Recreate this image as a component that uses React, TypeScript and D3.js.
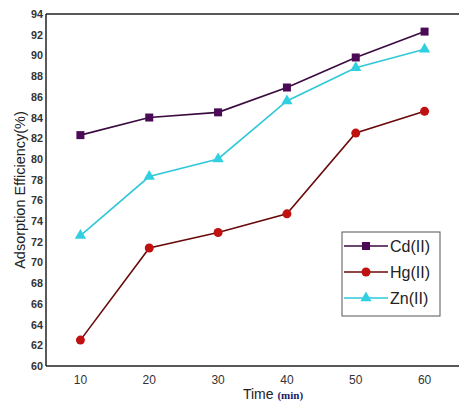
import React from "react";
import * as d3 from "d3";

const times = [10, 20, 30, 40, 50, 60];
const cd = [82.3, 84.0, 84.5, 86.9, 89.8, 92.3];
const hg = [62.5, 71.4, 72.9, 74.7, 82.5, 84.6];
const zn = [72.6, 78.3, 80.0, 85.6, 88.8, 90.6];
const yTicks = [60, 62, 64, 66, 68, 70, 72, 74, 76, 78, 80, 82, 84, 86, 88, 90, 92, 94];
const xTicks = [10, 20, 30, 40, 50, 60];

const seriesList = [
  { name: "Cd(II)", values: cd, line: "#3a0a40", marker: "#4a0a55", shape: "square" },
  { name: "Hg(II)", values: hg, line: "#6a0a0a", marker: "#c01010", shape: "circle" },
  { name: "Zn(II)", values: zn, line: "#30c8d8", marker: "#30d0e0", shape: "triangle" },
];

const W = 459;
const H = 405;

function Marker({ shape, x, y, color }: { shape: string; x: number; y: number; color: string }) {
  if (shape === "square") {
    return <rect x={x - 4} y={y - 4} width={8} height={8} fill={color} />;
  }
  if (shape === "circle") {
    return <circle cx={x} cy={y} r={4.5} fill={color} />;
  }
  const path = d3.symbol(d3.symbolTriangle, 55)();
  return <path d={path || ""} transform={`translate(${x},${y})`} fill={color} />;
}

export default function App() {
  const x = d3.scaleLinear().domain([5, 65]).range([46, 459]);
  const y = d3.scaleLinear().domain([60, 94]).range([366, 14]);

  const line = d3
    .line<number>()
    .x((_, i) => x(times[i]))
    .y((d) => y(d));

  return (
    <svg
      width={W}
      height={H}
      style={{ position: "absolute", left: 0, top: 0, background: "#fff" }}
      fontFamily="Liberation Sans, Arial, sans-serif"
    >
      {/* frame */}
      <line x1={46} x2={459} y1={14} y2={14} stroke="#222" strokeWidth={1.5} />
      <line x1={46} x2={459} y1={366} y2={366} stroke="#222" strokeWidth={1.5} />
      <line x1={46} x2={46} y1={14} y2={366} stroke="#222" strokeWidth={1.5} />

      {/* y ticks */}
      {yTicks.map((t) => (
        <text
          key={t}
          x={43}
          y={y(t) + 4}
          textAnchor="end"
          fontSize={11}
          fontWeight="bold"
          fill="#333"
          textLength={12}
          lengthAdjust="spacingAndGlyphs"
        >
          {t}
        </text>
      ))}

      {/* x ticks */}
      {xTicks.map((t) => (
        <text key={t} x={x(t)} y={384} textAnchor="middle" fontSize={12} fill="#333">
          {t}
        </text>
      ))}

      {/* axis titles */}
      <text
        transform="translate(25,190) rotate(-90)"
        textAnchor="middle"
        fontSize={14.5}
        fill="#222"
      >
        Adsorption Efficiency(%)
      </text>
      <text x={273} y={399} textAnchor="middle" fontSize={14} fill="#222">
        Time{" "}
        <tspan fontFamily="Liberation Serif, Times New Roman, serif" fontWeight="bold" fontSize={11} fill="#1a1a6a">
          (min)
        </tspan>
      </text>

      {/* series */}
      {seriesList.map((s) => (
        <g key={s.name}>
          <path d={line(s.values) || ""} fill="none" stroke={s.line} strokeWidth={1.6} />
          {s.values.map((v, i) => (
            <Marker key={i} shape={s.shape} x={x(times[i])} y={y(v)} color={s.marker} />
          ))}
        </g>
      ))}

      {/* legend */}
      <rect x={342} y={232} width={98} height={84} fill="#fff" stroke="#555" strokeWidth={1} />
      {seriesList.map((s, i) => {
        const ly = 246 + i * 26;
        return (
          <g key={s.name}>
            <line x1={344} x2={388} y1={ly} y2={ly} stroke={s.line} strokeWidth={1.6} />
            <Marker shape={s.shape} x={366} y={ly} color={s.marker} />
            <text x={390} y={ly + 6} fontSize={16} fill="#222">
              {s.name}
            </text>
          </g>
        );
      })}
    </svg>
  );
}
